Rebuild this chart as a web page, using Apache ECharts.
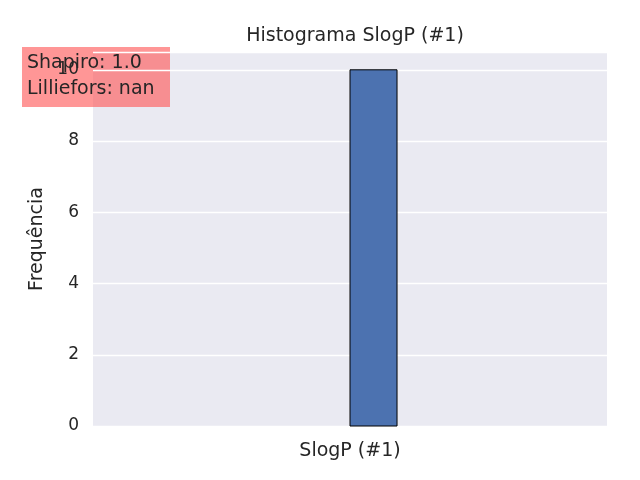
<!DOCTYPE html>
<html><head><meta charset="utf-8">
<script src="https://cdn.jsdelivr.net/npm/echarts@6/dist/echarts.min.js"></script>
<style>body{margin:0}#c{width:640px;height:480px}</style></head>
<body><div id="c"></div>
<script>
var binEdges = [0, 0.0915];
var binCounts = [10];
var xLabel = 'SlogP (#1)';
var chart = echarts.init(document.getElementById('c'));
var bins = [];
for (var i = 0; i < binCounts.length; i++) bins.push([binEdges[i], binEdges[i + 1], binCounts[i]]);
chart.setOption({
  backgroundColor: '#fff',
  title: { text: 'Histograma SlogP (#1)', left: 350, textAlign: 'center', top: 22,
    textStyle: { fontFamily: 'DejaVu Sans', fontSize: 19, fontWeight: 'normal', color: '#262626' } },
  grid: { left: 93, right: 33, top: 52, bottom: 54, show: true, backgroundColor: '#EAEAF2', borderWidth: 0 },
  xAxis: { type: 'value', min: -0.5, max: 0.5, axisLine: { show: false }, axisTick: { show: false },
    axisLabel: { show: false }, splitLine: { show: false },
    name: xLabel, nameLocation: 'middle', nameGap: 16,
    nameTextStyle: { fontFamily: 'DejaVu Sans', fontSize: 19, color: '#262626' } },
  yAxis: { type: 'value', min: 0, max: 10.5, interval: 2, axisLine: { show: false }, axisTick: { show: false },
    axisLabel: { fontFamily: 'DejaVu Sans', fontSize: 17, color: '#262626', margin: 14,
      formatter: function (v) { return v % 2 === 0 ? v : ''; } },
    splitLine: { lineStyle: { color: '#fff', width: 1.3 } },
    name: 'Frequência', nameLocation: 'middle', nameGap: 46,
    nameTextStyle: { fontFamily: 'DejaVu Sans', fontSize: 19, color: '#262626' } },
  graphic: [{ type: 'group', left: 22, top: 47, children: [
    { type: 'rect', shape: { width: 148, height: 60 }, style: { fill: 'rgba(255,80,80,0.6)' } },
    { type: 'text', left: 5, top: 3, style: { text: 'Shapiro: 1.0\nLilliefors: nan', font: '19px "DejaVu Sans"', fill: '#262626', lineHeight: 26 } }
  ] }],
  series: [{ type: 'custom', data: bins,
    renderItem: function (params, api) {
      var p0 = api.coord([api.value(0), api.value(2)]);
      var p1 = api.coord([api.value(1), 0]);
      return { type: 'rect', shape: { x: p0[0], y: p0[1], width: p1[0] - p0[0], height: p1[1] - p0[1] },
        style: { fill: '#4C72B0', stroke: '#000', lineWidth: 1 } };
    } }]
});
</script></body></html>
